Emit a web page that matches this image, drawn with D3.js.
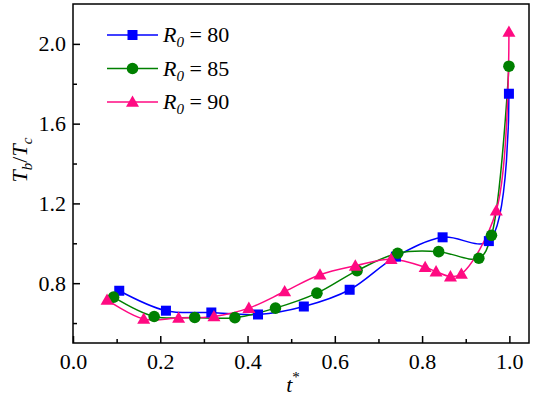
<!DOCTYPE html>
<html>
<head>
<meta charset="utf-8">
<script src="https://cdn.jsdelivr.net/npm/d3@7"></script>
<style>
    body { margin: 0; background: #fff; }
    svg { display: block; }
</style>
</head>
<body>
<svg id="chart" width="533" height="396"></svg>
<script>
// data
const r80_t = [0.106, 0.213, 0.317, 0.424, 0.529, 0.634, 0.740, 0.847, 0.953, 0.999];
const r80_v = [0.762, 0.662, 0.653, 0.643, 0.683, 0.767, 0.933, 1.030, 1.011, 1.750];

const r85_t = [0.093, 0.186, 0.279, 0.371, 0.464, 0.559, 0.651, 0.744, 0.838, 0.930, 0.959, 0.999];
const r85_v = [0.730, 0.633, 0.628, 0.627, 0.675, 0.750, 0.863, 0.950, 0.958, 0.925, 1.040, 1.888];

const r90_t = [0.078, 0.162, 0.242, 0.323, 0.403, 0.485, 0.566, 0.647, 0.729, 0.807, 0.832, 0.865, 0.890, 0.970, 0.999];
const r90_v = [0.716, 0.620, 0.625, 0.633, 0.675, 0.758, 0.842, 0.887, 0.920, 0.880, 0.858, 0.833, 0.846, 1.163, 2.060];

const series_names = ['80', '85', '90'];
const series_colors = ['#0000ff', '#008000', '#ff0a82'];
const series_shapes = ['square', 'circle', 'triangle'];

const x_ticks = [0.0, 0.2, 0.4, 0.6, 0.8, 1.0];
const y_ticks = [0.8, 1.2, 1.6, 2.0];

const serif = '"Liberation Serif"';

const width = 533, height = 396;
const margin = {top: 4, right: 4, bottom: 53, left: 73};
const inner_width = width - margin.left - margin.right;
const inner_height = height - margin.top - margin.bottom;

const svg = d3.select('#chart');

const chart = svg.append('g')
    .attr('transform', `translate(${margin.left}, ${margin.top})`);

const xscale = d3.scaleLinear().domain([0, 1.045]).range([0, inner_width]);
const yscale = d3.scaleLinear().domain([0.5, 2.2]).range([inner_height, 0]);

const minor_x = d3.range(0.1, 1.01, 0.2);
const minor_y = d3.range(0.6, 2.01, 0.4);

// minor ticks first, then the major axes on top
chart.append('g')
    .attr('transform', `translate(0, ${inner_height})`)
    .call(d3.axisBottom(xscale).tickValues(minor_x).tickSize(-4).tickFormat(''))
    .call(g => g.select('.domain').remove())
    .selectAll('line').attr('stroke-width', 1.5);

chart.append('g')
    .call(d3.axisLeft(yscale).tickValues(minor_y).tickSize(-4).tickFormat(''))
    .call(g => g.select('.domain').remove())
    .selectAll('line').attr('stroke-width', 1.5);

const xaxis_group = chart.append('g')
    .attr('transform', `translate(0, ${inner_height})`)
    .call(d3.axisBottom(xscale).tickValues(x_ticks).tickSize(-7).tickPadding(10).tickSizeOuter(0)
        .tickFormat(d3.format('.1f')));

const yaxis_group = chart.append('g')
    .call(d3.axisLeft(yscale).tickValues(y_ticks).tickSize(-7).tickPadding(7).tickSizeOuter(0)
        .tickFormat(d3.format('.1f')));

[xaxis_group, yaxis_group].forEach(g => {
    g.select('.domain').remove();
    g.attr('font-family', null).attr('font-size', null);
    g.selectAll('line').attr('stroke-width', 1.5);
    g.selectAll('text')
        .style('font-family', serif)
        .attr('font-size', 22)
        .attr('fill', '#000');
});

// frame
chart.append('rect')
    .attr('width', inner_width)
    .attr('height', inner_height)
    .attr('fill', 'none')
    .attr('stroke', '#000')
    .attr('stroke-width', 1.5);

// series
const series = [
    {t: r80_t, v: r80_v},
    {t: r85_t, v: r85_v},
    {t: r90_t, v: r90_v},
];

const line = d3.line()
    .x(d => xscale(d[0]))
    .y(d => yscale(d[1]))
    .curve(d3.curveCatmullRom.alpha(0.5));

function marker(g, shape, color) {
    if (shape === 'square') {
        g.append('rect').attr('x', -5).attr('y', -5).attr('width', 10).attr('height', 10).attr('fill', color);
    } else if (shape === 'circle') {
        g.append('circle').attr('r', 5.8).attr('fill', color);
    } else {
        g.append('path').attr('d', 'M0,-6.5L6.5,4.8L-6.5,4.8Z').attr('fill', color);
    }
}

series.forEach((s, i) => {
    const pts = s.t.map((t, j) => [t, s.v[j]]);
    chart.append('path')
        .attr('d', line(pts))
        .attr('fill', 'none')
        .attr('stroke', series_colors[i])
        .attr('stroke-width', 1.5);
});

series.forEach((s, i) => {
    const pts = s.t.map((t, j) => [t, s.v[j]]);
    chart.selectAll(null)
        .data(pts)
        .join('g')
        .attr('transform', d => `translate(${xscale(d[0])}, ${yscale(d[1])})`)
        .each(function() { marker(d3.select(this), series_shapes[i], series_colors[i]); });
});

// legend
const legend = svg.append('g').attr('transform', 'translate(107, 35)');
series_names.forEach((name, i) => {
    const row = legend.append('g').attr('transform', `translate(0, ${i * 33.5})`);
    row.append('line')
        .attr('x1', 0).attr('x2', 51)
        .attr('stroke', series_colors[i])
        .attr('stroke-width', 1.5);
    const m = row.append('g').attr('transform', 'translate(25.5, 0)');
    marker(m, series_shapes[i], series_colors[i]);
    const txt = row.append('text')
        .attr('x', 56)
        .attr('y', 7)
        .style('font-family', serif)
        .attr('font-size', 22)
        .attr('fill', '#000');
    txt.append('tspan').attr('font-style', 'italic').text('R');
    txt.append('tspan').attr('font-style', 'italic').attr('font-size', 15).attr('dy', 5).text('0');
    txt.append('tspan').attr('dy', -5).text(' = ' + name);
});

// axis titles
const xt = svg.append('text')
    .attr('x', margin.left + inner_width / 2 - 8)
    .attr('y', 392)
    .attr('text-anchor', 'middle')
    .style('font-family', serif)
    .attr('font-size', 22)
    .attr('fill', '#000');
xt.append('tspan').attr('font-style', 'italic').text('t');
xt.append('tspan').attr('font-size', 15).attr('dy', -10).text('*');

const yt = svg.append('text')
    .attr('transform', 'translate(27, 160) rotate(-90)')
    .attr('text-anchor', 'middle')
    .style('font-family', serif)
    .attr('font-size', 22)
    .attr('fill', '#000');
yt.append('tspan').attr('font-style', 'italic').text('T');
yt.append('tspan').attr('font-style', 'italic').attr('font-size', 15).attr('dy', 5).text('b');
yt.append('tspan').attr('dy', -5).text('/');
yt.append('tspan').attr('font-style', 'italic').text('T');
yt.append('tspan').attr('font-style', 'italic').attr('font-size', 15).attr('dy', 5).text('c');
</script>
</body>
</html>
